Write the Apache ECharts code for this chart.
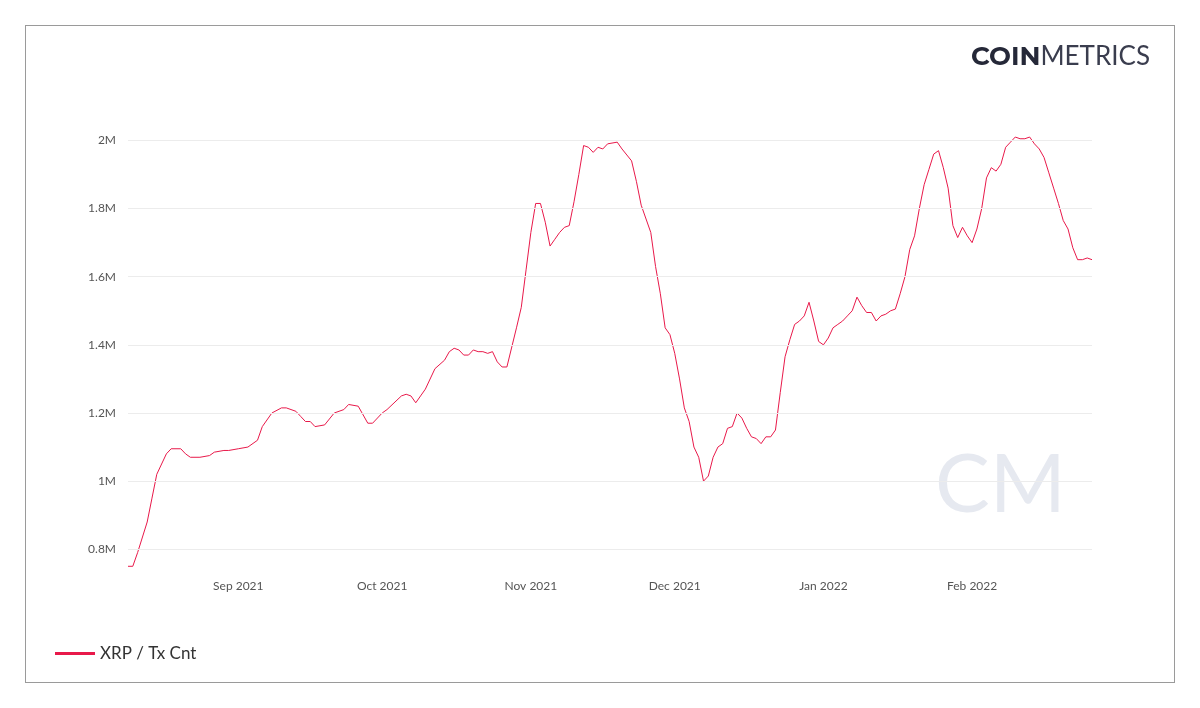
<!DOCTYPE html>
<html><head><meta charset="utf-8">
<script src="https://cdn.jsdelivr.net/npm/echarts@6/dist/echarts.min.js"></script>
<style>
html,body{margin:0;padding:0;background:#fff;}
#frame{position:absolute;left:25px;top:25px;width:1148px;height:656px;border:1px solid #9a9a9a;}
#c{position:absolute;left:0;top:0;width:1200px;height:708px;}
</style></head><body>
<div id="frame"></div>
<div id="c"></div>
<script>
const startDate = '2021-08-09';
const dayOffsets = [0,1,2,4,5,6,8,9,11,12,13,15,17,18,20,21,23,25,27,28,30,32,33,35,36,37,38,39,41,43,45,46,48,50,51,53,54,57,58,59,60,61,62,64,66,67,68,69,70,71,72,73,74,75,76,77,78,79,81,82,83,84,85,86,87,88,89,90,91,92,93,94,95,96,97,98,99,100,102,103,105,106,107,109,110,111,112,113,114,115,116,117,118,119,120,121,122,123,124,125,126,127,128,129,130,131,132,133,134,135,136,137,138,139,140,141,142,143,144,145,146,147,148,149,150,151,152,153,154,155,156,157,158,159,160,161,162,163,164,165,166,167,168,169,170,171,172,173,174,175,176,177,178,179,180,181,182,183,184,185,186,187,188,189,190,191,192,193,194,195,196,197,198,199,200,201];
const txCntM = [0.75,0.75,0.79,0.88,0.95,1.02,1.08,1.095,1.095,1.08,1.07,1.07,1.075,1.085,1.09,1.09,1.095,1.10,1.12,1.16,1.20,1.215,1.215,1.205,1.19,1.175,1.175,1.16,1.165,1.20,1.21,1.225,1.22,1.17,1.17,1.20,1.21,1.25,1.255,1.25,1.23,1.25,1.27,1.33,1.355,1.38,1.39,1.385,1.37,1.37,1.385,1.38,1.38,1.375,1.38,1.35,1.335,1.335,1.45,1.51,1.62,1.73,1.815,1.815,1.76,1.69,1.71,1.73,1.745,1.75,1.82,1.90,1.985,1.98,1.965,1.98,1.975,1.99,1.995,1.975,1.94,1.88,1.81,1.73,1.63,1.55,1.45,1.43,1.375,1.30,1.215,1.175,1.10,1.07,1.00,1.015,1.07,1.10,1.11,1.155,1.16,1.20,1.185,1.155,1.13,1.125,1.11,1.13,1.13,1.15,1.26,1.365,1.415,1.46,1.47,1.485,1.525,1.47,1.41,1.40,1.42,1.45,1.46,1.47,1.485,1.50,1.54,1.515,1.495,1.495,1.47,1.485,1.49,1.50,1.505,1.55,1.60,1.68,1.72,1.80,1.87,1.915,1.96,1.97,1.92,1.86,1.75,1.715,1.745,1.72,1.70,1.74,1.80,1.89,1.92,1.91,1.93,1.98,1.995,2.01,2.005,2.005,2.01,1.99,1.975,1.95,1.905,1.86,1.815,1.765,1.74,1.685,1.65,1.65,1.655,1.65];
const monthTicks = ['2021-09-01','2021-10-01','2021-11-01','2021-12-01','2022-01-01','2022-02-01'];
const yTicks = [0.8e6,1.0e6,1.2e6,1.4e6,1.6e6,1.8e6,2.0e6];
const seriesName = 'XRP / Tx Cnt';
const monthNames = ['Jan','Feb','Mar','Apr','May','Jun','Jul','Aug','Sep','Oct','Nov','Dec'];

const t0 = Date.UTC(2021,7,9);
const DAY = 86400000;
const data = dayOffsets.map((d,i)=>[t0 + d*DAY, txCntM[i]*1e6]);
const tickTs = monthTicks.map(s=>{const p=s.split('-');return Date.UTC(+p[0],+p[1]-1,+p[2]);});

const chart = echarts.init(document.getElementById('c'));
chart.setOption({
  animation:false,
  grid:{left:128,right:108,top:120,height:448},
  xAxis:{type:'value',min:t0,max:t0+201*DAY,
    axisLine:{show:false},axisTick:{show:false},splitLine:{show:false},
    axisLabel:{customValues:tickTs,color:'#555',fontSize:12,fontFamily:'Lato, sans-serif',margin:12,
      formatter:v=>{const d=new Date(v);return monthNames[d.getUTCMonth()]+' '+d.getUTCFullYear();}}},
  yAxis:{type:'value',min:0.745e6,max:2.06e6,
    axisLine:{show:false},axisTick:{show:false},splitLine:{show:false},
    axisLabel:{customValues:yTicks,color:'#555',fontSize:12,fontFamily:'Lato, sans-serif',margin:12,
      formatter:v=>{const m=v/1e6;return (Math.round(m*10)/10)+'M';}}},
  legend:{left:50,top:640,itemWidth:40,itemHeight:3,icon:'rect',itemGap:10,
    textStyle:{color:'#333',fontSize:17,fontFamily:'Lato, sans-serif'}},
  graphic:[
    {type:'text',right:50,top:44,style:{rich:{b:{fontWeight:'bold',fill:'#252838',fontSize:26,fontFamily:'Montserrat, Lato, sans-serif'},n:{fontWeight:'normal',fill:'#3a3d4e',fontSize:26,fontFamily:'Lato, sans-serif'}},text:'{b|COIN}{n|METRICS}'}},
    {type:'text',left:935,top:445,silent:true,style:{text:'CM',fill:'#e6e9f0',fontSize:82,fontFamily:'Lato, sans-serif',fontWeight:'normal'}}
  ],
  series:[{name:seriesName,type:'line',data:data,showSymbol:false,symbol:'none',
    lineStyle:{color:'#e8194a',width:1},itemStyle:{color:'#e8194a'},
    markLine:{silent:true,symbol:'none',label:{show:false},
      lineStyle:{color:'#ececec',type:'solid',width:1},
      data:yTicks.map(v=>({yAxis:v}))}}]
});
</script></body></html>
